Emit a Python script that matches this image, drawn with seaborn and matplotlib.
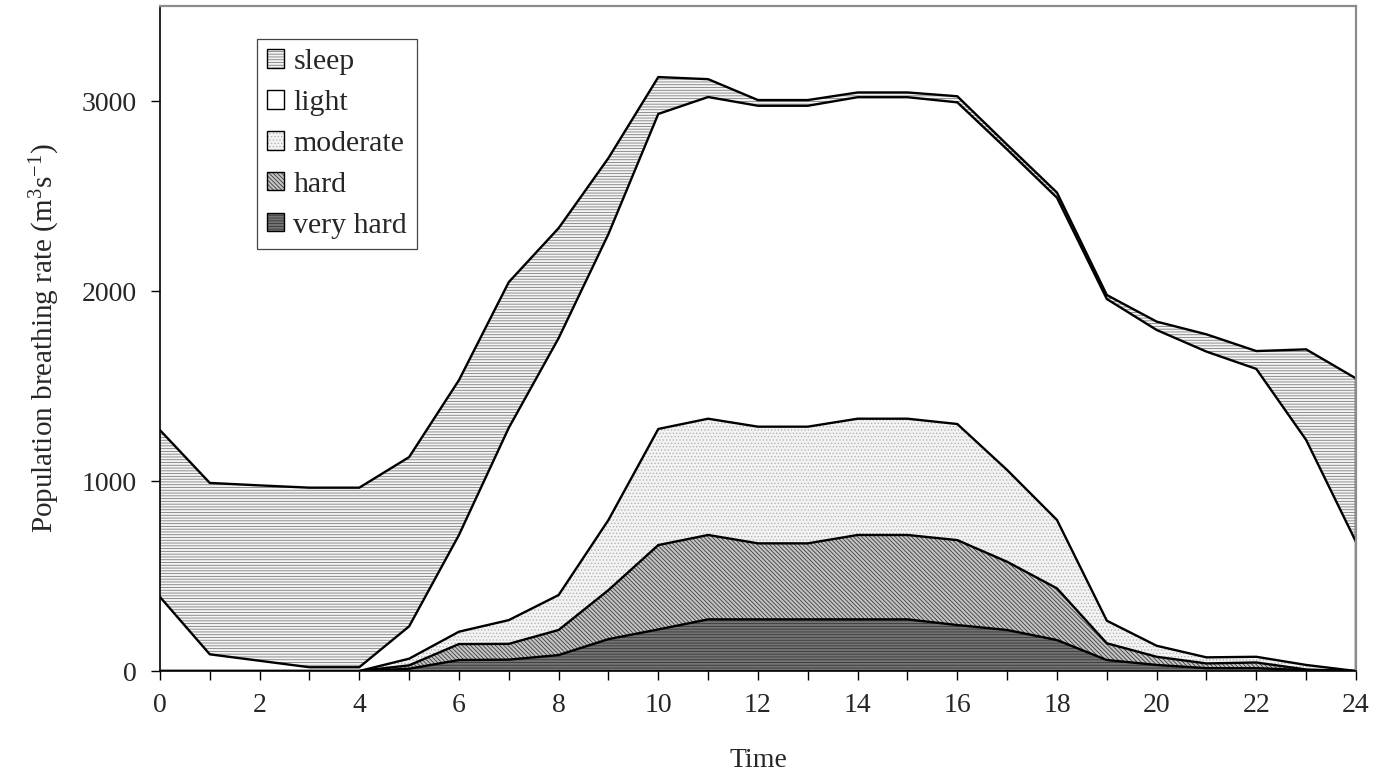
import matplotlib
matplotlib.use('Agg')
import matplotlib.pyplot as plt
import matplotlib.patches as mpatches
from matplotlib.ticker import MultipleLocator
import numpy as np
import pandas as pd
import seaborn as sns

hours = list(range(25))
very_hard = [0, 0, 0, 0, 0, 12, 58, 60, 84, 168, 219, 272, 272, 272, 272, 272, 242, 216, 163, 58, 32, 15, 15, 5, 0]
hard = [0, 0, 0, 0, 0, 18, 84, 83, 132, 258, 444, 444, 400, 400, 444, 444, 447, 359, 272, 88, 43, 25, 30, 3, 0]
moderate = [0, 0, 0, 0, 0, 35, 65, 125, 184, 369, 611, 612, 614, 614, 612, 612, 611, 483, 360, 119, 58, 32, 30, 24, 0]
light = [390, 88, 54, 20, 20, 170, 509, 1012, 1352, 1505, 1658, 1693, 1689, 1689, 1692, 1692, 1693, 1687, 1696, 1693, 1662, 1609, 1515, 1184, 680]
sleep = [878, 902, 923, 945, 945, 891, 815, 767, 579, 400, 194, 94, 30, 30, 25, 25, 32, 25, 27, 21, 44, 91, 94, 477, 860]

names = ['very hard', 'hard', 'moderate', 'light', 'sleep']
series = [very_hard, hard, moderate, light, sleep]
# face colour, hatch, hatch colour
styles = {
    'very hard': ('#747474', '------', '#383838'),
    'hard': ('#c4c4c4', '\\\\\\\\\\\\\\\\', '#3c3c3c'),
    'moderate': ('#f3f3f3', '.....', '#b4b4b4'),
    'light': ('white', None, 'white'),
    'sleep': ('#f4f4f4', '------', '#7e7e7e'),
}

sns.set_theme(style='white')
plt.rcParams['font.family'] = ['Liberation Serif', 'DejaVu Serif']
plt.rcParams['mathtext.fontset'] = 'custom'
plt.rcParams['mathtext.rm'] = 'Liberation Serif'
plt.rcParams['mathtext.it'] = 'Liberation Serif'
plt.rcParams['mathtext.default'] = 'regular'
plt.rcParams['hatch.linewidth'] = 0.6
plt.rcParams['axes.unicode_minus'] = False

fig = plt.figure(figsize=(13.8, 7.8), dpi=100)
ax = fig.add_axes([0.1159, 0.1397, 0.8667, 0.8526])

x = np.array(hours)
base = np.zeros(len(hours))
rows = []
for name, vals in zip(names, series):
    top = base + np.array(vals)
    fc, hatch, hc = styles[name]
    ax.fill_between(x, base, top, facecolor=fc, hatch=hatch, edgecolor=hc, linewidth=0, zorder=1)
    for h, v in zip(hours, top):
        rows.append({'Time': h, 'value': v, 'layer': name})
    base = top

lines = pd.DataFrame(rows)
sns.lineplot(data=lines, x='Time', y='value', units='layer', estimator=None,
             color='black', linewidth=1.7, ax=ax, zorder=3, legend=False)
# closing edge of the stacked polygons at the last hour
ax.plot([hours[-1], hours[-1]], [0, base[-1]], color='black', linewidth=1.7, zorder=3)

ax.set_xlim(0, 24)
ax.set_ylim(0, 3500)
ax.xaxis.set_major_locator(MultipleLocator(2))
ax.xaxis.set_minor_locator(MultipleLocator(1))
ax.set_yticks([0, 1000, 2000, 3000])
ax.tick_params(axis='both', which='both', direction='out', length=6.5, width=1,
               color='black', labelsize=20, bottom=True, left=True)
ax.tick_params(axis='x', pad=9)
ax.tick_params(axis='y', pad=10)

for s in ['left', 'bottom']:
    ax.spines[s].set_color('black')
    ax.spines[s].set_linewidth(1.2)
for s in ['top', 'right']:
    ax.spines[s].set_color('#8c8c8c')
    ax.spines[s].set_linewidth(1.6)
for s in ax.spines.values():
    s.set_zorder(4)

ax.set_xlabel('Time', fontsize=20, labelpad=22)
ax.set_ylabel('Population breathing rate (m$^{3}$s$^{-1}$)', fontsize=21, labelpad=14)

handles = []
for name in names[::-1]:
    fc, hatch, hc = styles[name]
    p1 = mpatches.Patch(facecolor=fc, hatch=hatch, edgecolor=hc, linewidth=0)
    p2 = mpatches.Patch(facecolor='none', edgecolor='black', linewidth=1.0)
    handles.append((p1, p2))
leg = ax.legend(handles, names[::-1], loc='upper left', bbox_to_anchor=(0.081, 0.951),
                fontsize=21.5, frameon=True, fancybox=False, shadow=False,
                edgecolor='#444444', framealpha=1, borderpad=0.35,
                handlelength=0.57, handleheight=0.57, handletextpad=0.3,
                labelspacing=0.5, borderaxespad=0)
leg.get_frame().set_linewidth(0.9)

fig.savefig('out.png', dpi=100)
